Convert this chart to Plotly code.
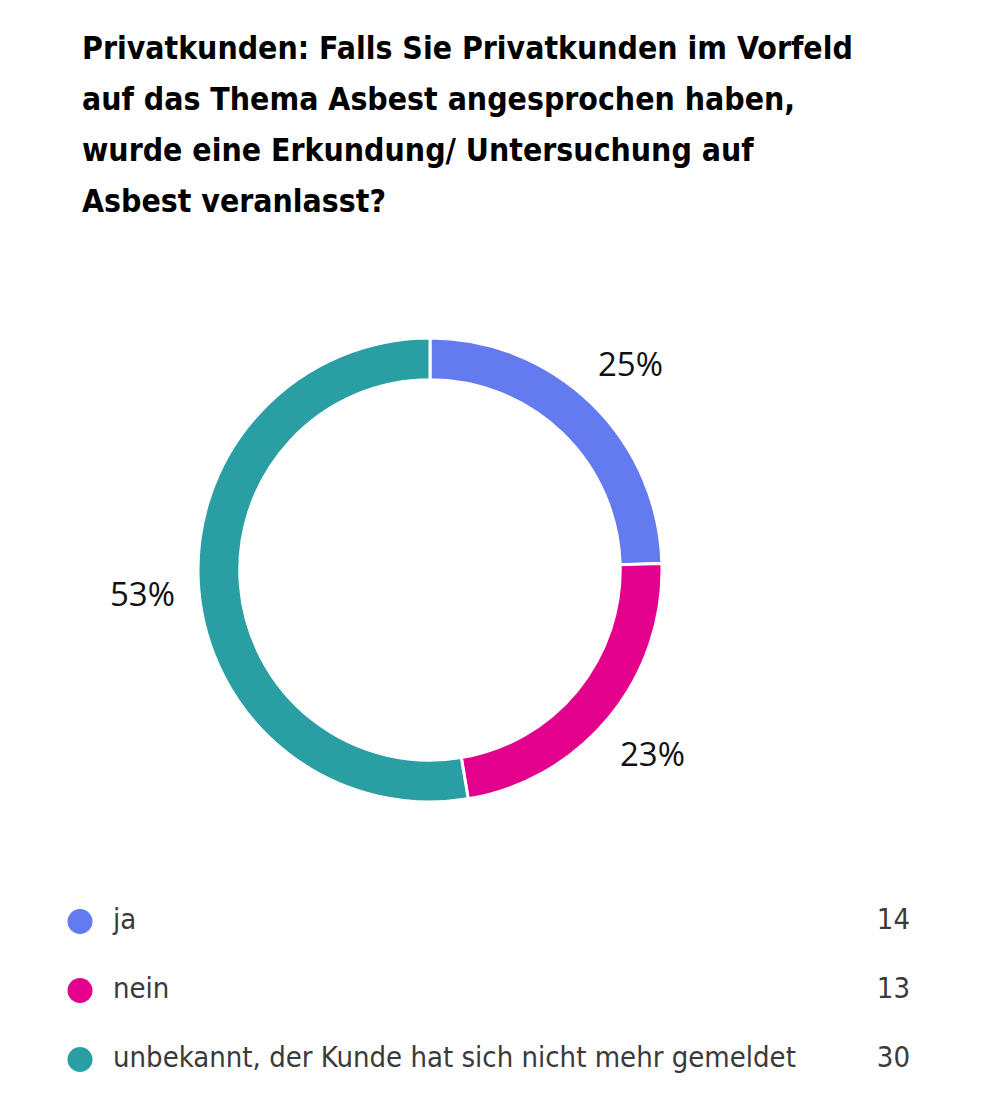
import plotly.graph_objects as go
import math

# Daten aus der Umfrage
kategorien = ["ja", "nein", "unbekannt, der Kunde hat sich nicht mehr gemeldet"]
anzahl = [14, 13, 30]
farben = ["#637BEE", "#E3008C", "#2A9FA3"]
titel_zeilen = [
    "Privatkunden: Falls Sie Privatkunden im Vorfeld",
    "auf das Thema Asbest angesprochen haben,",
    "wurde eine Erkundung/ Untersuchung auf",
    "Asbest veranlasst?",
]

W, H = 991, 1118
OFF = 8                       # Seitenrand des Browsers
cx, cy, R = 430 - OFF, 570 - OFF, 232   # Mitte und Radius des Rings in Pixeln
label_r = 288
schrift = "Liberation Sans Narrow, DejaVu Sans Condensed, sans-serif"

fig = go.Figure()

fig.add_trace(go.Pie(
    labels=kategorien,
    values=anzahl,
    sort=False,
    direction="clockwise",
    rotation=0,
    hole=0.82,
    marker=dict(colors=farben, line=dict(color="white", width=3)),
    textinfo="none",
    hoverinfo="label+value+percent",
    showlegend=False,
    domain=dict(x=[(cx - R) / W, (cx + R) / W],
                y=[(H - cy - R) / H, (H - cy + R) / H]),
))

# Prozentwerte außerhalb des Rings, Winkel aus den Werten berechnet
gesamt = sum(anzahl)
kum = 0
for n in anzahl:
    mitte = (kum + n / 2) / gesamt * 2 * math.pi
    kum += n
    px_x = cx + label_r * math.sin(mitte)
    px_y = cy - label_r * math.cos(mitte)
    fig.add_annotation(
        x=px_x / W, y=1 - px_y / H, xref="paper", yref="paper",
        text=f"{round(n / gesamt * 100)}%", showarrow=False,
        xanchor="center", yanchor="middle",
        font=dict(family="Open Sans, Noto Sans, sans-serif", size=33, color="#111111"),
    )

# Titel, Zeile für Zeile
for i, zeile in enumerate(titel_zeilen):
    fig.add_annotation(
        x=(80 - OFF) / W, y=1 - (48 - OFF + i * 51) / H, xref="paper", yref="paper",
        text=f"<b>{zeile}</b>", showarrow=False,
        xanchor="left", yanchor="middle",
        font=dict(family=schrift, size=31.7, color="#000000"),
    )

# Legende mit Punkten, Beschriftungen und Anzahl
zeilen = list(range(len(kategorien)))
fig.add_trace(go.Scatter(
    x=[80 - OFF] * len(kategorien), y=zeilen, mode="markers",
    marker=dict(size=25, color=farben), hoverinfo="skip", showlegend=False,
))
fig.add_trace(go.Scatter(
    x=[113 - OFF] * len(kategorien), y=zeilen, mode="text", text=kategorien,
    textposition="middle right",
    textfont=dict(family=schrift, size=29, color="#3a3a3a"),
    hoverinfo="skip", showlegend=False,
))
fig.add_trace(go.Scatter(
    x=[910 - OFF] * len(kategorien), y=zeilen, mode="text", text=[str(a) for a in anzahl],
    textposition="middle left",
    textfont=dict(family=schrift, size=29, color="#3a3a3a"),
    hoverinfo="skip", showlegend=False,
))

fig.update_layout(
    width=W, height=H,
    margin=dict(l=0, r=0, t=0, b=0),
    paper_bgcolor="white", plot_bgcolor="white",
    xaxis=dict(range=[0, W], domain=[0, 1], visible=False, fixedrange=True),
    yaxis=dict(range=[2.5, -0.5],
               domain=[(H - 1094 + OFF) / H, (H - 887 + OFF) / H],
               visible=False, fixedrange=True),
)

fig.write_html("out.html")
